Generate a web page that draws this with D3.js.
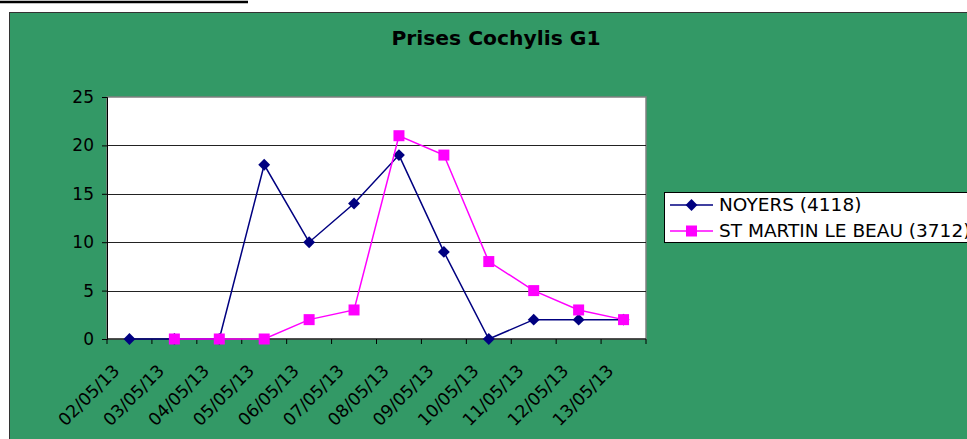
<!DOCTYPE html>
<html>
<head>
<meta charset="utf-8">
<script src="https://cdn.jsdelivr.net/npm/d3@7"></script>
<style>
  body { margin: 0; background: #fff; }
  text { font-family: "DejaVu Sans", Verdana, sans-serif; }
</style>
</head>
<body>
<svg id="chart"></svg>
<script>
// data
const categories = ["02/05/13", "03/05/13", "04/05/13", "05/05/13", "06/05/13", "07/05/13",
                    "08/05/13", "09/05/13", "10/05/13", "11/05/13", "12/05/13", "13/05/13"];
const noyers = [0, 0, 0, 18, 10, 14, 19, 9, 0, 2, 2, 2];
const stMartin = [null, 0, 0, 0, 2, 3, 21, 19, 8, 5, 3, 2];
const seriesNames = ["NOYERS (4118)", "ST MARTIN LE BEAU (3712)"];
const yTicks = [0, 5, 10, 15, 20, 25];

const W = 967, H = 439;
const plot = { left: 107, right: 646, top: 97, bottom: 339 };

const svg = d3.select("#chart").attr("width", W).attr("height", H);

// little black rule at the very top
svg.append("line")
    .attr("x1", 0).attr("x2", 248).attr("y1", 2).attr("y2", 2)
    .attr("stroke", "#000").attr("stroke-width", 2.5);

// green chart area
svg.append("rect")
    .attr("x", 9.5).attr("y", 12.5).attr("width", W).attr("height", H)
    .attr("fill", "#339966").attr("stroke", "#333").attr("stroke-width", 1);

svg.append("text")
    .attr("x", 496).attr("y", 45)
    .attr("text-anchor", "middle")
    .attr("font-size", 20.3).attr("font-weight", "bold")
    .text("Prises Cochylis G1");

const x = d3.scaleBand().domain(categories).range([plot.left, plot.right]);
const y = d3.scaleLinear().domain([0, 25]).range([plot.bottom, plot.top]);

// plot area
svg.append("rect")
    .attr("x", plot.left).attr("y", plot.top)
    .attr("width", plot.right - plot.left).attr("height", plot.bottom - plot.top)
    .attr("fill", "#fff").attr("stroke", "#808080").attr("stroke-width", 1.5);

// gridlines
svg.append("g")
    .selectAll("line")
    .data(yTicks.slice(1, -1))
    .enter().append("line")
    .attr("x1", plot.left).attr("x2", plot.right)
    .attr("y1", d => Math.round(y(d)) + 0.5).attr("y2", d => Math.round(y(d)) + 0.5)
    .attr("stroke", "#222").attr("stroke-width", 1);

// y axis
const yAxis = svg.append("g")
    .attr("transform", "translate(" + plot.left + ",0)")
    .call(d3.axisLeft(y).tickValues(yTicks).tickSize(5).tickPadding(8));
yAxis.selectAll("text").attr("font-size", 17).attr("fill", "#000")
    .style("font-family", '"DejaVu Sans", Verdana, sans-serif');
yAxis.selectAll("line, path").attr("stroke", "#000");

// x axis: ticks sit between categories
const xAxis = svg.append("g")
    .attr("transform", "translate(0," + plot.bottom + ")")
    .call(d3.axisBottom(x).tickSize(0).tickFormat(""));
xAxis.select("path").attr("stroke", "#000").attr("d", "M" + plot.left + ",0H" + plot.right);
xAxis.selectAll(".tick").remove();

const bounds = categories.map(c => x(c)).concat([plot.right]);
xAxis.selectAll(".sep")
    .data(bounds)
    .enter().append("line")
    .attr("class", "sep")
    .attr("x1", d => d).attr("x2", d => d)
    .attr("y1", 0).attr("y2", 5)
    .attr("stroke", "#000");

xAxis.selectAll(".lbl")
    .data(categories)
    .enter().append("text")
    .attr("class", "lbl")
    .attr("text-anchor", "end")
    .attr("font-size", 17.3)
    .attr("fill", "#000")
    .attr("transform", d => "translate(" + (x(d) + x.bandwidth() / 2 - 9) + ",33) rotate(-45)")
    .text(d => d);

// series
const cx = (d, i) => x(categories[i]) + x.bandwidth() / 2;
const line = d3.line()
    .defined(d => d !== null)
    .x(cx)
    .y(d => y(d));

const diamond = d3.symbol().type(d3.symbolDiamond2).size(90);

svg.append("path")
    .datum(noyers)
    .attr("fill", "none").attr("stroke", "#000080").attr("stroke-width", 1.5)
    .attr("d", line);
svg.append("g")
    .selectAll("path")
    .data(noyers)
    .enter().append("path")
    .attr("d", diamond)
    .attr("transform", (d, i) => "translate(" + cx(d, i) + "," + y(d) + ")")
    .attr("fill", "#000080");

svg.append("path")
    .datum(stMartin)
    .attr("fill", "none").attr("stroke", "#ff00ff").attr("stroke-width", 1.5)
    .attr("d", line);
svg.append("g")
    .selectAll("rect")
    .data(stMartin.map((v, i) => ({ v, i })).filter(d => d.v !== null))
    .enter().append("rect")
    .attr("x", d => cx(d.v, d.i) - 5.5).attr("y", d => y(d.v) - 5.5)
    .attr("width", 11).attr("height", 11)
    .attr("fill", "#ff00ff");

// legend
const legend = svg.append("g");
legend.append("rect")
    .attr("x", 664.5).attr("y", 192.5).attr("width", 330).attr("height", 50)
    .attr("fill", "#fff").attr("stroke", "#000").attr("stroke-width", 1);

const rows = [
    { name: seriesNames[0], color: "#000080", shape: "diamond", cy: 205 },
    { name: seriesNames[1], color: "#ff00ff", shape: "square", cy: 231 }
];
const item = legend.selectAll(".item")
    .data(rows)
    .enter().append("g")
    .attr("class", "item")
    .attr("transform", d => "translate(0," + d.cy + ")");
item.append("line")
    .attr("x1", 670).attr("x2", 713)
    .attr("stroke", d => d.color).attr("stroke-width", 1.5);
item.filter(d => d.shape === "diamond").append("path")
    .attr("d", diamond)
    .attr("transform", "translate(691.5,0)")
    .attr("fill", d => d.color);
item.filter(d => d.shape === "square").append("rect")
    .attr("x", 686).attr("y", -5.5).attr("width", 11).attr("height", 11)
    .attr("fill", d => d.color);
item.append("text")
    .attr("x", 719).attr("dy", "0.35em")
    .attr("font-size", 18.5)
    .text(d => d.name);
</script>
</body>
</html>
